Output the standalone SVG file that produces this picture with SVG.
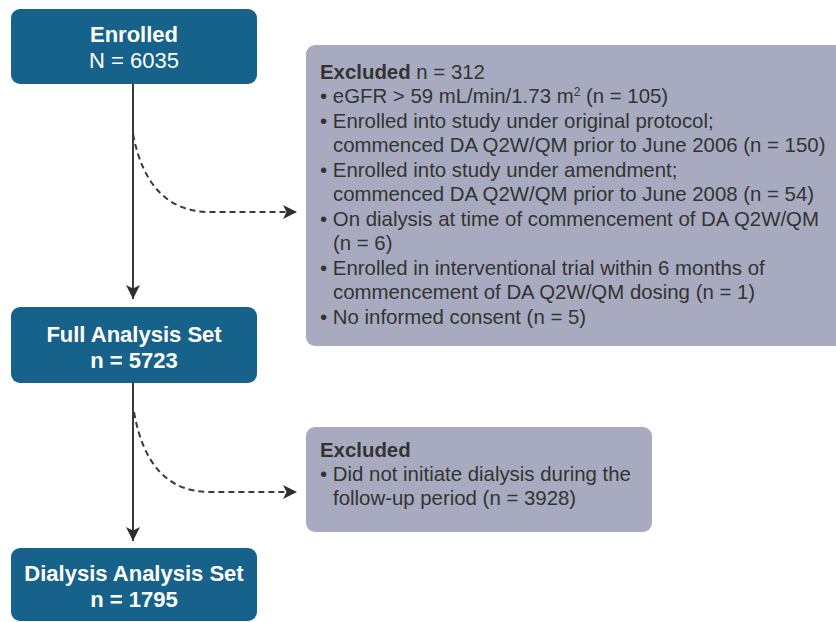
<svg xmlns="http://www.w3.org/2000/svg" width="836" height="622" viewBox="0 0 836 622">
<style>
.nb{fill:#17628b}
.ex{fill:#a8abc0}
.t{font-family:"Liberation Sans",Arial,sans-serif;fill:#fff;font-size:22px;text-anchor:middle}
.b{font-weight:bold}
.e{font-family:"Liberation Sans",Arial,sans-serif;fill:#333;font-size:20.4px}
.solid{stroke:#3a3a3a;stroke-width:2;fill:none}
.dash{stroke:#3a3a3a;stroke-width:2;fill:none;stroke-dasharray:6 4}
</style>
<defs>
<marker id="ah" viewBox="0 0 12 12" refX="12" refY="6" markerWidth="14" markerHeight="14" markerUnits="userSpaceOnUse" orient="auto">
<path d="M0,0 L12,6 L0,12 L3,6 Z" fill="#2f2f2f"/>
</marker>
</defs>
<g id="connectors">
<path class="solid" d="M133,84 V299" marker-end="url(#ah)"/>
<path class="solid" d="M133,383 V541" marker-end="url(#ah)"/>
<path class="dash" d="M133,134 Q148,212 210,212 H297" marker-end="url(#ah)"/>
<path class="dash" d="M134,412 Q148,492 210,492 H297" marker-end="url(#ah)"/>
</g>
<g id="enrolled">
<rect class="nb" x="11" y="9" width="246" height="75" rx="9"/>
<text class="t b" x="134" y="42">Enrolled</text>
<text class="t" x="134" y="68">N = 6035</text>
</g>
<g id="fas">
<rect class="nb" x="11" y="307" width="246" height="76" rx="9"/>
<text class="t b" x="134" y="342">Full Analysis Set</text>
<text class="t b" x="134" y="368">n = 5723</text>
</g>
<g id="das">
<rect class="nb" x="11" y="548" width="246" height="73" rx="9"/>
<text class="t b" x="134" y="581">Dialysis Analysis Set</text>
<text class="t b" x="134" y="607">n = 1795</text>
</g>
<g id="excluded1">
<rect class="ex" x="306" y="45" width="545" height="301" rx="9"/>
<text class="e" x="320" y="79"><tspan font-weight="bold">Excluded</tspan> n = 312</text>
<text class="e" x="320" y="103">• eGFR &gt; 59 mL/min/1.73 m<tspan font-size="12" dy="-7">2</tspan><tspan dy="7"> (n = 105)</tspan></text>
<text class="e" x="320" y="128">• Enrolled into study under original protocol;</text>
<text class="e" x="333" y="152">commenced DA Q2W/QM prior to June 2006 (n = 150)</text>
<text class="e" x="320" y="177">• Enrolled into study under amendment;</text>
<text class="e" x="333" y="201">commenced DA Q2W/QM prior to June 2008 (n = 54)</text>
<text class="e" x="320" y="226">• On dialysis at time of commencement of DA Q2W/QM</text>
<text class="e" x="333" y="250">(n = 6)</text>
<text class="e" x="320" y="275">• Enrolled in interventional trial within 6 months of</text>
<text class="e" x="333" y="299">commencement of DA Q2W/QM dosing (n = 1)</text>
<text class="e" x="320" y="324">• No informed consent (n = 5)</text>
</g>
<g id="excluded2">
<rect class="ex" x="306" y="427" width="346" height="105" rx="9"/>
<text class="e b" x="320" y="457">Excluded</text>
<text class="e" x="320" y="481">• Did not initiate dialysis during the</text>
<text class="e" x="333" y="505">follow-up period (n = 3928)</text>
</g>
</svg>
